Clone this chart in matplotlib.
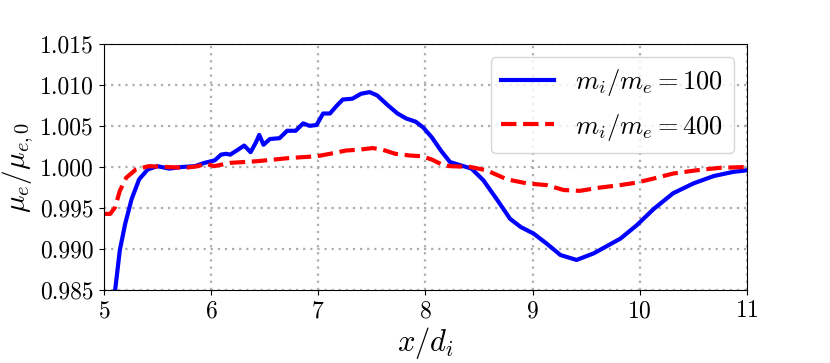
import matplotlib
matplotlib.use("Agg")
import matplotlib.pyplot as plt
from matplotlib.ticker import FormatStrFormatter

plt.rcParams["font.family"] = "cmr10"
plt.rcParams["mathtext.fontset"] = "cm"
plt.rcParams["axes.unicode_minus"] = False
plt.rcParams["axes.formatter.use_mathtext"] = True

# mi/me = 100
x_100 = [5.08, 5.106, 5.15, 5.2, 5.26, 5.33, 5.41, 5.50, 5.61, 5.73, 5.85, 5.94,
         6.035, 6.094, 6.14, 6.18, 6.24, 6.31, 6.37, 6.42, 6.45, 6.49, 6.55, 6.64,
         6.71, 6.79, 6.86, 6.92, 6.985, 7.046, 7.11, 7.17, 7.23, 7.32, 7.40, 7.48,
         7.55, 7.65, 7.74, 7.82, 7.91, 7.98, 8.06, 8.15, 8.23, 8.33, 8.43, 8.54,
         8.67, 8.79, 8.89, 9.01, 9.13, 9.26, 9.41, 9.57, 9.82, 9.97, 10.13, 10.31,
         10.50, 10.69, 10.87, 11.0]
y_100 = [0.982, 0.985, 0.9899, 0.9931, 0.9961, 0.9985, 0.9997, 1.0001, 0.9998, 1.0000,
         1.0001, 1.0005, 1.0008, 1.0015, 1.0016, 1.0015, 1.0020, 1.0026, 1.0018,
         1.0030, 1.0039, 1.0027, 1.0034, 1.0035, 1.0044, 1.0044, 1.0053, 1.0050,
         1.0051, 1.0065, 1.0065, 1.0074, 1.0082, 1.0083, 1.0089, 1.0091, 1.0087,
         1.0075, 1.0065, 1.0059, 1.0055, 1.0048, 1.0036, 1.0019, 1.0006, 1.0002,
         0.9998, 0.9984, 0.9960, 0.9937, 0.9927, 0.9919, 0.9907, 0.9893, 0.9887,
         0.9895, 0.9913, 0.9929, 0.9949, 0.9968, 0.9980, 0.9989, 0.9994, 0.9996]

# mi/me = 400
x_400 = [5.0, 5.06, 5.106, 5.15, 5.21, 5.30, 5.42, 5.58, 5.76, 5.88, 5.95, 6.03,
         6.18, 6.43, 6.74, 6.985, 7.11, 7.26, 7.38, 7.51, 7.60, 7.72, 7.85, 7.97,
         8.06, 8.17, 8.23, 8.42, 8.57, 8.76, 8.95, 9.13, 9.29, 9.44, 9.63, 9.82,
         9.97, 10.13, 10.31, 10.53, 10.75, 11.0]
y_400 = [0.9943, 0.9943, 0.9951, 0.9971, 0.9987, 0.9997, 1.0001, 1.0000, 0.9999,
         1.0001, 1.0004, 1.0001, 1.0005, 1.0007, 1.0011, 1.0013, 1.0016, 1.0020,
         1.0021, 1.0023, 1.0021, 1.0016, 1.0014, 1.0013, 1.0009, 1.0002, 1.0001,
         1.0000, 0.9996, 0.9985, 0.9980, 0.9978, 0.9972, 0.9971, 0.9975, 0.9978,
         0.9981, 0.9986, 0.9992, 0.9996, 0.9999, 1.0000]

x_ticks = [5, 6, 7, 8, 9, 10, 11]
y_ticks = [0.985, 0.990, 0.995, 1.000, 1.005, 1.010, 1.015]

fig, ax = plt.subplots(figsize=(8.3, 3.63), dpi=100)
fig.subplots_adjust(left=0.125, right=0.9, top=0.88, bottom=0.2)

ax.plot(x_100, y_100, color="blue", lw=3, label=r"$m_i/m_e = 100$")
ax.plot(x_400, y_400, color="red", lw=3, ls="--", label=r"$m_i/m_e = 400$")

ax.set_xlim(5, 11); ax.set_ylim(0.985, 1.015)
ax.set_xticks(x_ticks); ax.set_yticks(y_ticks)
ax.yaxis.set_major_formatter(FormatStrFormatter("%.3f"))
ax.tick_params(labelsize=17)
ax.grid(True, ls=(0, (1, 2.2)), color="0.68", lw=1.6)
ax.set_xlabel(r"$x/d_i$", fontsize=22, labelpad=2)
ax.set_ylabel(r"$\mu_e/\mu_{e,0}$", fontsize=21, labelpad=3)
ax.legend(loc="upper right", fontsize=19, handlelength=2.0)

fig.savefig("out.png", dpi=100)
